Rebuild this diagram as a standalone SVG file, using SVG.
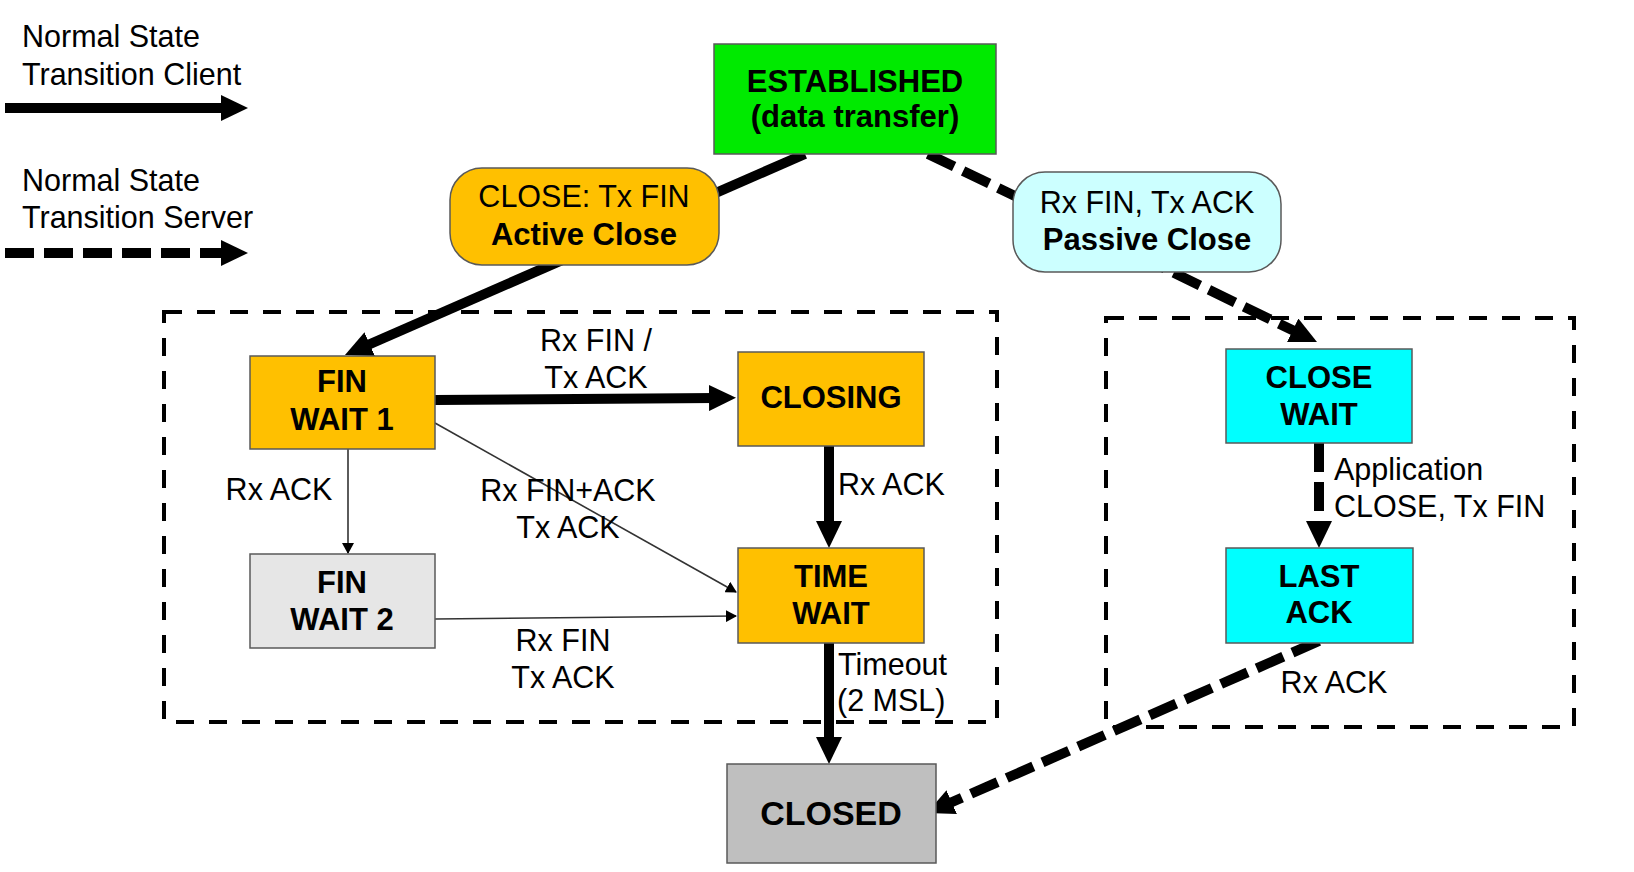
<svg xmlns="http://www.w3.org/2000/svg" width="1634" height="872" viewBox="0 0 1634 872">
<defs>
<style>
text{font-family:"Liberation Sans",Arial,sans-serif;fill:#000}
.t{font-size:30.5px}
.b{font-size:31px;font-weight:bold}
.m{text-anchor:middle}
.node{stroke:#595959;stroke-width:1.5}
.thick{fill:none;stroke:#000;stroke-width:10}
.dash{stroke-dasharray:29 10}
.thin{fill:none;stroke:#333;stroke-width:1.6}
.frame{fill:none;stroke:#000;stroke-width:4;stroke-dasharray:18 15}
</style>
<marker id="ah" markerUnits="userSpaceOnUse" markerWidth="27" markerHeight="26" viewBox="0 0 27 26" refX="7" refY="13" orient="auto">
<path d="M0,0 L27,13 L0,26 z" fill="#000"/>
</marker>
<marker id="ahs" markerUnits="userSpaceOnUse" markerWidth="11" markerHeight="12" viewBox="0 0 11 12" refX="10" refY="6" orient="auto">
<path d="M0,0 L11,6 L0,12 z" fill="#000"/>
</marker>
</defs>
<rect width="1634" height="872" fill="#fff"/>

<g id="legend">
<text class="t" x="22" y="47">Normal State</text>
<text class="t" x="22" y="85">Transition Client</text>
<line class="thick" x1="5" y1="108" x2="228" y2="108" marker-end="url(#ah)"/>
<text class="t" x="22" y="191">Normal State</text>
<text class="t" x="22" y="228">Transition Server</text>
<line class="thick dash" x1="5" y1="253" x2="228" y2="253" marker-end="url(#ah)"/>
</g>

<g id="frames">
<rect class="frame" x="164" y="312" width="833" height="410"/>
<rect class="frame" x="1106" y="318" width="468" height="409"/>
</g>

<g id="connectors">
<line class="thick" x1="805" y1="154" x2="363.3" y2="347" marker-end="url(#ah)"/>
<line class="thick dash" x1="928" y1="154" x2="1299" y2="333.3" marker-end="url(#ah)"/>
<line class="thick" x1="435" y1="400" x2="716" y2="398" marker-end="url(#ah)"/>
<line class="thick" x1="829" y1="446" x2="829" y2="528" marker-end="url(#ah)"/>
<line class="thick" x1="829" y1="643" x2="829" y2="744" marker-end="url(#ah)"/>
<line class="thick dash" x1="1319" y1="443" x2="1319" y2="528" marker-end="url(#ah)"/>
<line class="thick dash" x1="1319" y1="641" x2="945.3" y2="805" marker-end="url(#ah)"/>
<line class="thin" x1="348" y1="449" x2="348" y2="553" marker-end="url(#ahs)"/>
<line class="thin" x1="435" y1="423" x2="736" y2="592" marker-end="url(#ahs)"/>
<line class="thin" x1="435" y1="619" x2="736" y2="616" marker-end="url(#ahs)"/>
</g>

<g id="edge-labels">
<text class="t m" x="596" y="351">Rx FIN /</text>
<text class="t m" x="596" y="388">Tx ACK</text>
<text class="t m" x="279" y="500">Rx ACK</text>
<text class="t m" x="568" y="501">Rx FIN+ACK</text>
<text class="t m" x="568" y="538">Tx ACK</text>
<text class="t" x="838" y="495">Rx ACK</text>
<text class="t m" x="563" y="651">Rx FIN</text>
<text class="t m" x="563" y="688">Tx ACK</text>
<text class="t" x="838" y="675">Timeout</text>
<text class="t" x="837" y="711">(2 MSL)</text>
<text class="t" x="1334" y="480">Application</text>
<text class="t" x="1334" y="517">CLOSE, Tx FIN</text>
<text class="t m" x="1334" y="693">Rx ACK</text>
</g>

<g id="established">
<rect class="node" x="714" y="44" width="282" height="110" fill="#00EA00"/>
<text class="b m" x="855" y="92">ESTABLISHED</text>
<text class="b m" x="855" y="127">(data transfer)</text>
</g>

<g id="active-close">
<rect class="node" x="450" y="168" width="269" height="97" rx="32" fill="#FFC000"/>
<text class="t m" x="584" y="207">CLOSE: Tx FIN</text>
<text class="b m" x="584" y="245">Active Close</text>
</g>

<g id="passive-close">
<rect class="node" x="1013" y="172" width="268" height="100" rx="32" fill="#CCFFFF"/>
<text class="t m" x="1147" y="213">Rx FIN, Tx ACK</text>
<text class="b m" x="1147" y="250">Passive Close</text>
</g>

<g id="fin-wait-1">
<rect class="node" x="250" y="356" width="185" height="93" fill="#FFC000"/>
<text class="b m" x="342" y="392">FIN</text>
<text class="b m" x="342" y="430">WAIT 1</text>
</g>

<g id="closing">
<rect class="node" x="738" y="352" width="186" height="94" fill="#FFC000"/>
<text class="b m" x="831" y="408">CLOSING</text>
</g>

<g id="fin-wait-2">
<rect class="node" x="250" y="554" width="185" height="94" fill="#E6E6E6"/>
<text class="b m" x="342" y="593">FIN</text>
<text class="b m" x="342" y="630">WAIT 2</text>
</g>

<g id="time-wait">
<rect class="node" x="738" y="548" width="186" height="95" fill="#FFC000"/>
<text class="b m" x="831" y="587">TIME</text>
<text class="b m" x="831" y="624">WAIT</text>
</g>

<g id="closed">
<rect class="node" x="727" y="764" width="209" height="99" fill="#BFBFBF"/>
<text class="b m" x="831" y="825" style="font-size:34px">CLOSED</text>
</g>

<g id="close-wait">
<rect class="node" x="1226" y="349" width="186" height="94" fill="#00FFFF"/>
<text class="b m" x="1319" y="388">CLOSE</text>
<text class="b m" x="1319" y="425">WAIT</text>
</g>

<g id="last-ack">
<rect class="node" x="1226" y="548" width="187" height="95" fill="#00FFFF"/>
<text class="b m" x="1319" y="587">LAST</text>
<text class="b m" x="1319" y="623">ACK</text>
</g>
</svg>
